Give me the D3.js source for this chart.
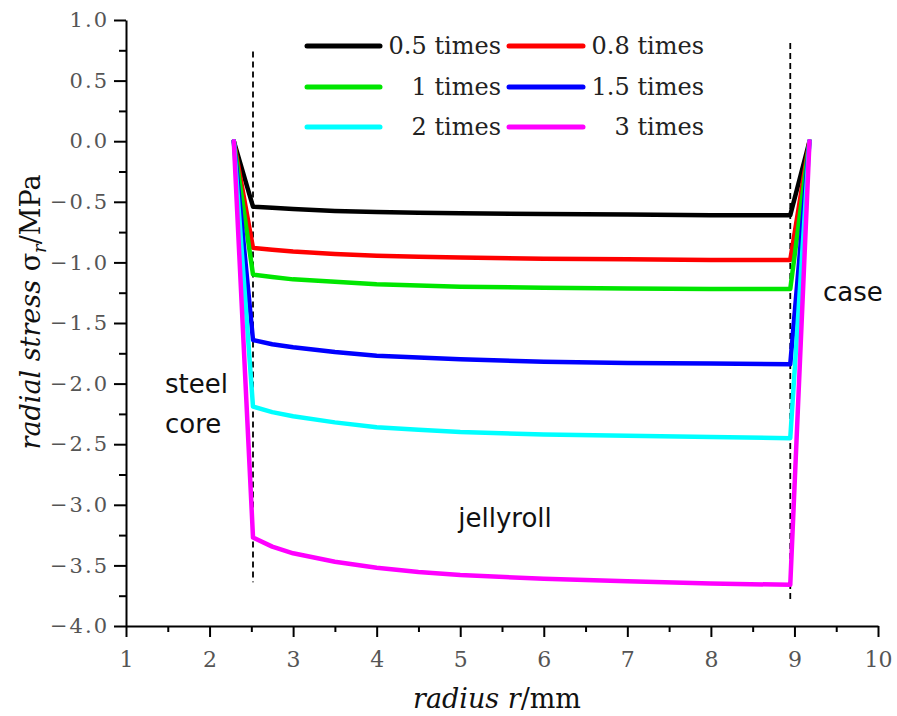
<!DOCTYPE html>
<html>
<head>
<meta charset="utf-8">
<script src="https://cdn.jsdelivr.net/npm/d3@7"></script>
<style>
body { margin: 0; background: #fff; }
</style>
</head>
<body>
<div id="chart"></div>
<script>
var radius = [2.29, 2.52, 2.75, 3.0, 3.5, 4, 4.5, 5, 6, 7, 8, 8.95, 9.18];

// radial stress (MPa) for each pressure multiple
var stress05 = [0, -0.54, -0.55, -0.56, -0.575, -0.585, -0.59, -0.595, -0.60, -0.605, -0.61, -0.61, 0];
var stress08 = [0, -0.88, -0.895, -0.91, -0.93, -0.945, -0.953, -0.96, -0.97, -0.975, -0.98, -0.98, 0];
var stress1  = [0, -1.10, -1.12, -1.14, -1.16, -1.18, -1.19, -1.20, -1.21, -1.215, -1.22, -1.22, 0];
var stress15 = [0, -1.64, -1.675, -1.70, -1.74, -1.77, -1.785, -1.80, -1.82, -1.83, -1.835, -1.84, 0];
var stress2  = [0, -2.19, -2.235, -2.27, -2.32, -2.36, -2.38, -2.40, -2.42, -2.43, -2.44, -2.45, 0];
var stress3  = [0, -3.27, -3.345, -3.40, -3.47, -3.52, -3.555, -3.58, -3.61, -3.63, -3.65, -3.66, 0];

var seriesNames = ['0.5 times', '0.8 times', '1 times', '1.5 times', '2 times', '3 times'];
var seriesColors = ['#000000', '#ff0000', '#00e600', '#0000ff', '#00ffff', '#ff00ff'];
var seriesData = [stress05, stress08, stress1, stress15, stress2, stress3];

// layer boundaries (steel core / jellyroll / case)
var boundaries = [2.52, 8.95];

var xTicks = [1, 2, 3, 4, 5, 6, 7, 8, 9, 10];
var xMinor = [1.5, 2.5, 3.5, 4.5, 5.5, 6.5, 7.5, 8.5, 9.5];
var yTicks = [1.0, 0.5, 0.0, -0.5, -1.0, -1.5, -2.0, -2.5, -3.0, -3.5, -4.0];
var yMinor = [0.75, 0.25, -0.25, -0.75, -1.25, -1.75, -2.25, -2.75, -3.25, -3.75];

var width = 897, height = 716;
var plotLeft = 126, plotRight = 878, plotTop = 20, plotBottom = 626;

var svg = d3.select('#chart').append('svg')
    .attr('width', width)
    .attr('height', height);

var x = d3.scaleLinear().domain([1, 10]).range([plotLeft, plotRight]);
var y = d3.scaleLinear().domain([-4, 1]).range([plotBottom, plotTop]);

// minor ticks first, then major axes on top
svg.append('g')
    .attr('transform', 'translate(0,' + plotBottom + ')')
    .call(d3.axisBottom(x).tickValues(xMinor).tickSize(6).tickFormat(''))
    .call(function (g) { g.select('.domain').remove(); });
svg.append('g')
    .attr('transform', 'translate(' + plotLeft + ',0)')
    .call(d3.axisLeft(y).tickValues(yMinor).tickSize(7).tickFormat(''))
    .call(function (g) { g.select('.domain').remove(); });

var xAxis = svg.append('g')
    .attr('transform', 'translate(0,' + plotBottom + ')')
    .call(d3.axisBottom(x).tickValues(xTicks).tickSize(11).tickSizeOuter(0).tickPadding(14).tickFormat(d3.format('d')));
var yAxis = svg.append('g')
    .attr('transform', 'translate(' + plotLeft + ',0)')
    .call(d3.axisLeft(y).tickValues(yTicks).tickSize(12).tickSizeOuter(0).tickPadding(5).tickFormat(d3.format('.1f')));

svg.selectAll('.tick line').attr('stroke', '#000').attr('stroke-width', 2);
svg.selectAll('.domain').attr('stroke', '#000').attr('stroke-width', 2);
xAxis.selectAll('text')
    .attr('font-family', 'DejaVu Serif')
    .attr('font-size', 22)
    .attr('fill', '#555');
yAxis.selectAll('text')
    .attr('font-family', 'DejaVu Serif')
    .attr('font-size', 21)
    .attr('letter-spacing', 2)
    .attr('fill', '#555')
    .text(function (d) { return d3.format('.1f')(d).replace('-', '\u2212'); });

// dashed boundary lines
svg.append('line')
    .attr('x1', x(boundaries[0])).attr('x2', x(boundaries[0]))
    .attr('y1', y(0.74)).attr('y2', y(-3.64))
    .attr('stroke', '#000').attr('stroke-width', 1.8)
    .attr('stroke-dasharray', '6,4');
svg.append('line')
    .attr('x1', x(boundaries[1])).attr('x2', x(boundaries[1]))
    .attr('y1', y(0.81)).attr('y2', y(-3.81))
    .attr('stroke', '#000').attr('stroke-width', 1.8)
    .attr('stroke-dasharray', '6,4');

var line = d3.line()
    .x(function (d, i) { return x(radius[i]); })
    .y(function (d) { return y(d); });

for (var i = 0; i < seriesData.length; i++) {
    svg.append('path')
        .attr('d', line(seriesData[i]))
        .attr('fill', 'none')
        .attr('stroke', seriesColors[i])
        .attr('stroke-width', 4.5)
        .attr('stroke-linejoin', 'round')
        .attr('stroke-linecap', 'round');
}

// legend, two columns
var legendRows = [46, 87, 127];
var legendCols = [{ x0: 307, x1: 380, tx: 501 }, { x0: 509, x1: 583, tx: 704 }];
for (var k = 0; k < seriesNames.length; k++) {
    var c = legendCols[k % 2], r = legendRows[Math.floor(k / 2)];
    svg.append('line')
        .attr('x1', c.x0).attr('x2', c.x1)
        .attr('y1', r).attr('y2', r)
        .attr('stroke', seriesColors[k])
        .attr('stroke-width', 5)
        .attr('stroke-linecap', 'round');
    svg.append('text')
        .attr('x', c.tx).attr('y', r + 8)
        .attr('text-anchor', 'end')
        .attr('font-family', 'DejaVu Serif')
        .attr('font-size', 24)
        .attr('fill', '#222')
        .text(seriesNames[k]);
}

// region labels
function note (tx, ty, str, anchor) {
    svg.append('text')
        .attr('x', tx).attr('y', ty)
        .attr('text-anchor', anchor || 'start')
        .attr('font-family', 'DejaVu Sans')
        .attr('font-size', 26)
        .attr('fill', '#111')
        .text(str);
}
note(165, 393, 'steel');
note(165, 433, 'core');
note(505, 527, 'jellyroll', 'middle');
note(823, 301, 'case');

// axis titles
var yl = svg.append('text')
    .attr('transform', 'translate(40,312) rotate(-90)')
    .attr('text-anchor', 'middle')
    .attr('font-family', 'DejaVu Serif')
    .attr('font-size', 27)
    .attr('fill', '#111');
yl.append('tspan').attr('font-style', 'italic').text('radial stress ');
yl.append('tspan').text('σ');
yl.append('tspan').attr('font-style', 'italic').attr('font-size', 18).attr('dy', 6).text('r');
yl.append('tspan').attr('dy', -6).text('/MPa');

var xl = svg.append('text')
    .attr('x', 497).attr('y', 708)
    .attr('text-anchor', 'middle')
    .attr('font-family', 'DejaVu Serif')
    .attr('font-size', 27)
    .attr('fill', '#111');
xl.append('tspan').attr('font-style', 'italic').text('radius  r');
xl.append('tspan').text('/mm');
</script>
</body>
</html>
